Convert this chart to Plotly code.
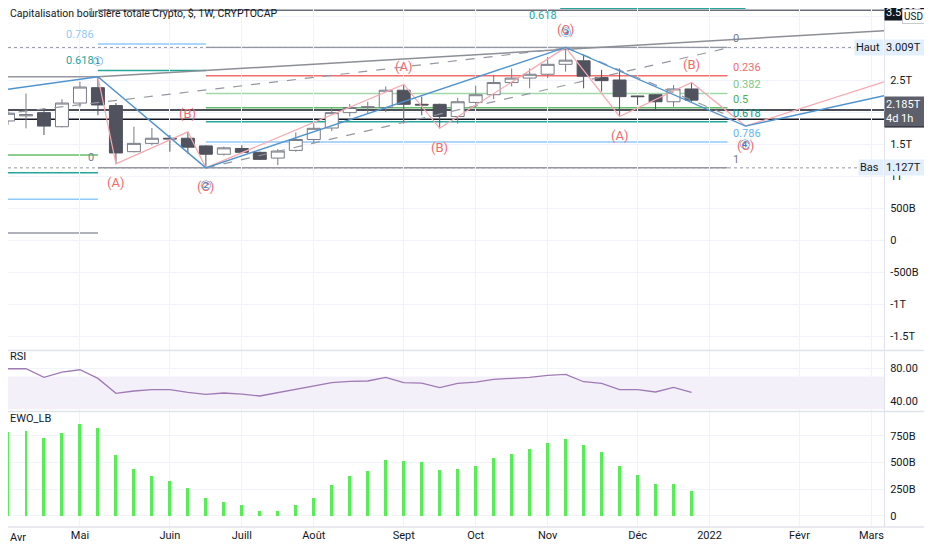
import pandas as pd
import plotly.graph_objects as go
from plotly.subplots import make_subplots

# --- data (prices in T USD, EWO in B USD) -----------------------------------

start = pd.Timestamp("2021-03-29")
weeks = pd.date_range(start, periods=39, freq="7D")

opens = [1.86, 1.94, 1.99, 1.77, 2.14, 2.38, 2.10, 1.38, 1.51, 1.59,
         1.59, 1.47, 1.34, 1.43, 1.37, 1.28, 1.40, 1.57, 1.75, 1.99,
         2.07, 2.07, 2.34, 2.12, 2.12, 1.93, 2.15, 2.27, 2.46, 2.53,
         2.59, 2.745, 2.80, 2.54, 2.50, 2.25, 2.27, 2.16, 2.36]
highs = [2.03, 2.29, 2.06, 2.20, 2.47, 2.55, 2.14, 1.77, 1.75, 1.64,
         1.69, 1.48, 1.46, 1.48, 1.38, 1.42, 1.68, 1.82, 2.06, 2.125,
         2.16, 2.40, 2.43, 2.24, 2.13, 2.22, 2.41, 2.58, 2.68, 2.68,
         2.86, 3.009, 2.89, 2.66, 2.68, 2.255, 2.28, 2.42, 2.46]
lows = [1.80, 1.745, 1.64, 1.76, 2.08, 1.95, 1.19, 1.37, 1.48, 1.38,
        1.35, 1.127, 1.32, 1.35, 1.25, 1.17, 1.38, 1.51, 1.70, 1.93,
        1.98, 2.00, 1.82, 1.95, 1.745, 1.82, 2.06, 2.20, 2.40, 2.37,
        2.53, 2.63, 2.37, 2.32, 1.93, 2.11, 2.03, 2.08, 2.16]
closes = [1.98, 1.96, 1.78, 2.14, 2.39, 2.11, 1.36, 1.51, 1.59, 1.58,
          1.45, 1.34, 1.44, 1.37, 1.26, 1.39, 1.57, 1.745, 1.99, 2.07,
          2.08, 2.34, 2.12, 2.11, 1.93, 2.16, 2.27, 2.46, 2.53, 2.59,
          2.745, 2.81, 2.56, 2.49, 2.24, 2.24, 2.16, 2.36, 2.185]

rsi = [79.5, 79.5, 69.0, 75.5, 78.3, 67.7, 49.4, 52.2, 53.8, 53.8,
       50.6, 48.1, 49.8, 48.5, 46.1, 50.2, 54.3, 57.9, 62.4, 64.1,
       64.5, 69.0, 62.4, 62.0, 56.3, 61.6, 63.2, 66.5, 67.3, 69.0,
       71.4, 72.6, 63.6, 61.6, 53.8, 53.8, 51.0, 56.7, 50.6]

ewo = [790, 796, 725, 775, 861, 821, 567, 440, 375, 325,
       257, 167, 134, 97, 41, 46, 97, 167, 288, 375,
       422, 527, 517, 502, 434, 440, 471, 539, 582, 622,
       678, 719, 663, 598, 471, 385, 294, 294, 229]

month_ticks = ["2021-03-29", "2021-04-26", "2021-05-31", "2021-06-28",
               "2021-07-26", "2021-08-30", "2021-09-27", "2021-10-25",
               "2021-11-29", "2021-12-27", "2022-01-31", "2022-02-28"]
month_labels = ["Avr", "Mai", "Juin", "Juill", "Août", "Sept", "Oct", "Nov",
                "Déc", "2022", "Févr", "Mars"]

price_ticks = [-1.5, -1, -0.5, 0, 0.5, 1, 1.5, 2, 2.5, 3, 3.5]
price_labels = ["-1.5T", "-1T", "-500B", "0", "500B", "1T", "1.5T", "2T",
                "2.5T", "3T", "3.5T"]

# Elliott drawings (week index, price)
abc_idx = [5, 6, 10, 11, 22, 24, 31, 34, 38, 41, 48.7]
abc_px = [2.55, 1.19, 1.69, 1.127, 2.43, 1.745, 3.009, 1.93, 2.46, 1.78, 2.47]
abc_text = ["", "(A)", "(B)", "(C)", "(A)", "(B)", "(C)", "(A)", "(B)", "(C)", ""]
impulse_idx = [-0.4, 5, 11, 31, 41, 48.7]
impulse_px = [2.34, 2.55, 1.127, 3.009, 1.78, 2.255]
impulse_text = ["", "①", "②", "③", "④", ""]

fib_hi, fib_lo = 3.009, 1.127
fib_ratios = [0, 0.236, 0.382, 0.5, 0.618, 0.786, 1]
fib_colors = ["#9598a1", "#f26d6d", "#a5d6a7", "#66bb6a", "#26a69a", "#90caf9", "#9598a1"]
fib_text_colors = ["#787b86", "#f26d6d", "#81c784", "#4caf50", "#089981", "#64b5f6", "#787b86"]

left_fib_lo, left_fib_hi = 1.127, 3.59
left_ratios = [0.618, 0.786, 1]
left_colors = ["#26a69a", "#90caf9", "#6b6e78"]
old_levels = [1.33, 1.05, 0.636, 0.11]
old_colors = ["#66bb6a", "#26a69a", "#90caf9", "#9598a1"]

black_levels = [2.03, 1.886]
haut, bas, last = 3.009, 1.127, 2.185

TEXT = "#131722"
GRID = "#f0f3fa"
BORDER = "#e0e3eb"
FONT = "Roboto, sans-serif"


def wk(i):
    return start + pd.Timedelta(days=7 * i)


fig = make_subplots(rows=3, cols=1, shared_xaxes=True, vertical_spacing=0.004)

fig.add_trace(go.Candlestick(
    x=weeks, open=opens, high=highs, low=lows, close=closes,
    increasing=dict(line=dict(color="#787b86", width=1), fillcolor="#ffffff"),
    decreasing=dict(line=dict(color="#50535e", width=1), fillcolor="#50535e"),
    whiskerwidth=0, showlegend=False, hoverinfo="skip",
), row=1, col=1)

# --- horizontal drawing lines ---
def hline(y, x0, x1, color, width=1, dash="solid", xref="x"):
    fig.add_shape(type="line", xref=xref, yref="y", x0=x0, x1=x1, y0=y, y1=y,
                  line=dict(color=color, width=width, dash=dash), layer="below")

for lvl, col in zip(old_levels, old_colors):
    hline(lvl, wk(-0.5), wk(5), col, 1.5)

for r, col, tcol in zip(fib_ratios, fib_colors, fib_text_colors):
    y = fib_hi - r * (fib_hi - fib_lo)
    x0 = wk(5) if r == 1 else wk(11)
    hline(y, x0, wk(40), col, 1.5)
    fig.add_annotation(x=wk(40), y=y, text=f"{r:g}", showarrow=False,
                       xanchor="left", yanchor="bottom", xshift=3,
                       font=dict(size=11, color=tcol, family=FONT))

for r, col in zip(left_ratios, left_colors):
    y = left_fib_lo + r * (left_fib_hi - left_fib_lo)
    x1 = wk(48.8) if r == 1 else wk(11)
    hline(y, wk(5), x1, col, 1.5)
    fig.add_annotation(x=wk(5), y=y, text=f"{r:g}", showarrow=False,
                       xanchor="right", yanchor="bottom" if r != 1 else "top",
                       xshift=-2, yshift=1 if r != 1 else 6,
                       font=dict(size=11, color=col if r != 1 else "#787b86", family=FONT))
fig.add_annotation(x=wk(5), y=left_fib_lo, text="0", showarrow=False,
                   xanchor="right", yanchor="bottom", xshift=-2, yshift=2,
                   font=dict(size=11, color="#787b86", family=FONT))

hline(3.62, wk(30.7), wk(41), "#26a69a", 1.5)
fig.add_annotation(x=wk(30.7), y=3.625, text="0.618", showarrow=False,
                   xanchor="right", yanchor="top", xshift=-1, yshift=1,
                   font=dict(size=11, color="#26a69a", family=FONT))

for lvl in black_levels:
    hline(lvl, 0, 1, "#131722", 1.5, xref="paper")
hline(haut, 0, 1, "#9598a1", 1, "dot", xref="paper")
hline(bas, 0, 1, "#9598a1", 1, "dot", xref="paper")

# --- trend / channel lines ---
fig.add_trace(go.Scatter(x=[wk(-0.4), wk(5)], y=[2.55, 2.55], mode="lines",
                         line=dict(color="#9598a1", width=1.5), hoverinfo="skip"), row=1, col=1)
fig.add_trace(go.Scatter(x=[wk(5), wk(48.7)], y=[2.55, 3.27], mode="lines",
                         line=dict(color="#8d8f96", width=1.5), hoverinfo="skip"), row=1, col=1)
fig.add_trace(go.Scatter(x=[wk(-0.4), wk(31)], y=[1.97, 3.0], mode="lines",
                         line=dict(color="#9598a1", width=1.2, dash="dash"), hoverinfo="skip"), row=1, col=1)
fig.add_trace(go.Scatter(x=[wk(11), wk(40)], y=[1.127, 3.0], mode="lines",
                         line=dict(color="#9598a1", width=1.2, dash="dash"), hoverinfo="skip"), row=1, col=1)
fig.add_trace(go.Scatter(x=[wk(31), wk(40)], y=[3.009, 1.95], mode="lines",
                         line=dict(color="#9598a1", width=1.2, dash="dash"), hoverinfo="skip"), row=1, col=1)

# --- Elliott waves ---
fig.add_trace(go.Scatter(x=[wk(i) for i in abc_idx], y=abc_px, mode="lines",
                         line=dict(color="#f7a8b0", width=1.2), hoverinfo="skip"), row=1, col=1)
fig.add_trace(go.Scatter(x=[wk(i) for i in impulse_idx], y=impulse_px, mode="lines",
                         line=dict(color="#4f93cf", width=1.4), hoverinfo="skip"), row=1, col=1)

for k, (i, p, t) in enumerate(zip(abc_idx, abc_px, abc_text)):
    if not t:
        continue
    is_low = p < abc_px[k - 1]
    fig.add_annotation(x=wk(i), y=p, text=t, showarrow=False,
                       yshift=-19 if is_low else 18,
                       font=dict(size=13, color="#f06a6e", family=FONT))
for k, (i, p, t) in enumerate(zip(impulse_idx, impulse_px, impulse_text)):
    if not t:
        continue
    is_low = p < impulse_px[k - 1]
    fig.add_annotation(x=wk(i), y=p, text=t, showarrow=False,
                       yshift=-18 if is_low else 15,
                       font=dict(size=13, color="#3d86c6", family="DejaVu Sans"))

# --- RSI pane ---
fig.add_shape(type="rect", xref="x2 domain", yref="y2", x0=0, x1=1, y0=30, y1=70,
              fillcolor="rgba(126,87,194,0.09)", line=dict(width=0), layer="below")
fig.add_trace(go.Scatter(x=weeks, y=rsi, mode="lines",
                         line=dict(color="#a07ab4", width=1.3), hoverinfo="skip"), row=2, col=1)

# --- EWO pane ---
fig.add_trace(go.Bar(x=weeks, y=ewo, width=7 * 24 * 3600 * 1000 * 0.11,
                     marker=dict(color="#55ee55", line=dict(width=0)),
                     hoverinfo="skip"), row=3, col=1)

# --- axes ---
fig.update_xaxes(range=[wk(0), wk(48.7)], tickvals=month_ticks, ticktext=month_labels,
                 showgrid=True, gridcolor=GRID, zeroline=False, ticks="",
                 rangeslider_visible=False, showline=False)
fig.update_xaxes(showticklabels=False, row=1, col=1)
fig.update_xaxes(showticklabels=False, row=2, col=1)
fig.update_xaxes(tickfont=dict(size=11, color=TEXT, family=FONT), row=3, col=1)

ycommon = dict(side="right", showgrid=True, gridcolor=GRID, zeroline=False, ticks="",
               showline=True, linecolor=BORDER, ticklabelstandoff=3,
               tickfont=dict(size=11, color=TEXT, family=FONT))
fig.update_yaxes(range=[-1.719, 3.625], tickvals=price_ticks, ticktext=price_labels,
                 domain=[0.341, 1], row=1, col=1, **ycommon)
fig.update_yaxes(range=[27.7, 101.2], tickvals=[40, 80], ticktext=["40.00", "80.00"],
                 domain=[0.2235, 0.339], row=2, col=1, **ycommon)
fig.update_yaxes(range=[-105, 973], tickvals=[0, 250, 500, 750],
                 ticktext=["0", "250B", "500B", "750B"],
                 domain=[0, 0.2216], row=3, col=1, **ycommon)

# pane separators
for yp in [0.340, 0.2225, 0.0]:
    fig.add_shape(type="line", xref="paper", yref="paper", x0=0, x1=1.06, y0=yp, y1=yp,
                  line=dict(color=BORDER, width=1.5))

# --- price scale tags ---
def tag(y, text, bg, fg, yref="y", x=1.0, anchor="left", w=44):
    fig.add_annotation(x=x, xref="paper", y=y, yref=yref, text=text, showarrow=False,
                       xanchor=anchor, align="left", bgcolor=bg, width=w, borderpad=1,
                       font=dict(size=11, color=fg, family=FONT))

tag(3.55, "3.590T", "#131722", "#ffffff")
fig.add_annotation(x=1.02, xref="paper", y=3.5, yref="y", text="USD",
                   showarrow=False, xanchor="left", bgcolor="#ffffff", bordercolor="#c8cad0",
                   borderpad=1, font=dict(size=10, color=TEXT, family=FONT))
tag(haut, f"{haut:.3f}T", "#e3effd", TEXT)
tag(haut, "Haut", "#e3effd", TEXT, x=1.0, anchor="right", w=26)
tag(bas, f"{bas:.3f}T", "#e3effd", TEXT)
tag(bas, "Bas", "#e3effd", TEXT, x=1.0, anchor="right", w=22)
tag(black_levels[1], "1.896T", "#131722", "#ffffff")
fig.add_annotation(x=1.0, xref="paper", y=last - 0.17, yref="y",
                   text=f"{last:.3f}T<br>4d 1h", showarrow=False, xanchor="left",
                   align="left", bgcolor="#5d606b", width=44, borderpad=1,
                   font=dict(size=11, color="#ffffff", family=FONT))

# --- texts ---
fig.add_annotation(x=0.0, xref="paper", y=0.99, yref="paper", yanchor="middle",
                   xanchor="left", showarrow=False,
                   text="Capitalisation boursière totale Crypto, $, 1W, CRYPTOCAP",
                   font=dict(size=10.5, color=TEXT, family=FONT))
fig.add_annotation(x=0.0, xref="paper", y=0.312, yref="paper", xanchor="left",
                   showarrow=False, text="RSI", font=dict(size=11, color=TEXT, family=FONT))
fig.add_annotation(x=0.0, xref="paper", y=0.193, yref="paper", xanchor="left",
                   showarrow=False, text="EWO_LB", font=dict(size=11, color=TEXT, family=FONT))
fig.add_annotation(x=0.0, xref="paper", y=-0.004, yref="paper", xanchor="left",
                   yanchor="top", showarrow=False, text="Avr",
                   font=dict(size=11, color=TEXT, family=FONT))

fig.update_layout(
    width=924, height=542,
    margin=dict(l=0, r=48, t=0, b=23),
    paper_bgcolor="#ffffff", plot_bgcolor="#ffffff",
    showlegend=False, bargap=0, boxgap=0.1, boxgroupgap=0.2,
    font=dict(family=FONT, color=TEXT),
)

fig.write_html("out.html")
